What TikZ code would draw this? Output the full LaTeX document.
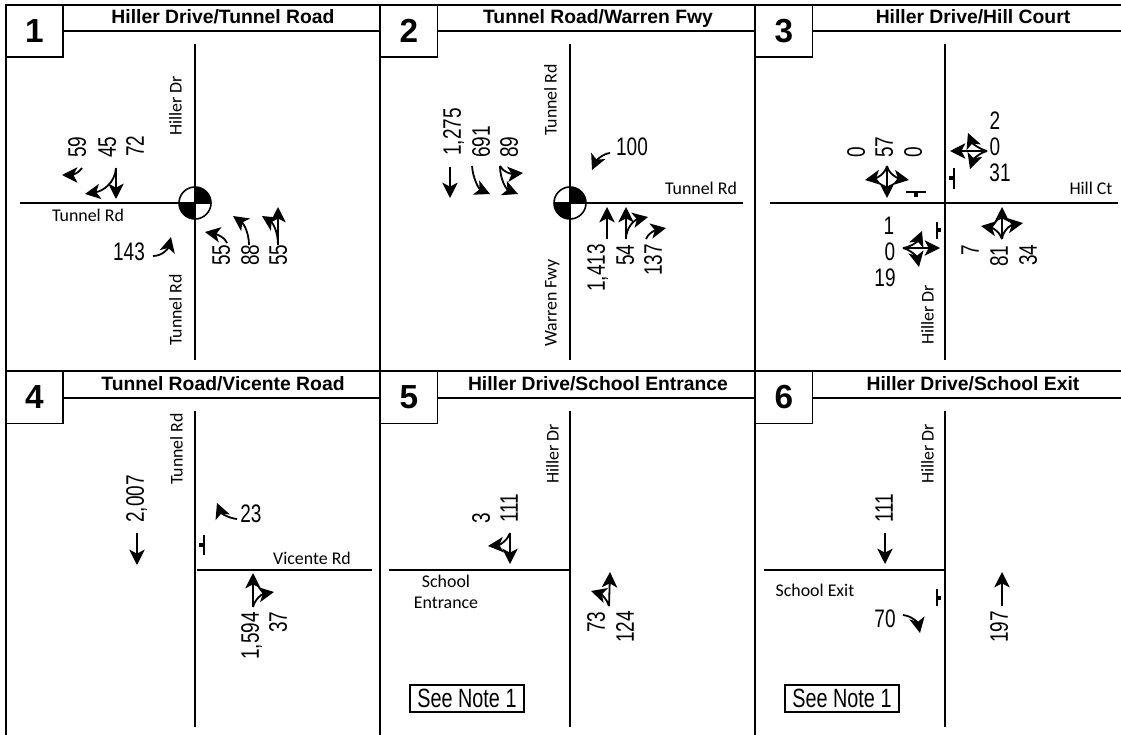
\documentclass[tikz,border=0pt]{standalone}
\usepackage{fontspec}
\usetikzlibrary{arrows.meta}
\setmainfont{Liberation Sans}
\newfontfamily\numfont[FakeStretch=.75]{Liberation Sans}
\newfontfamily\roadfont{Carlito}

\begin{document}
\begin{tikzpicture}[x=.75pt,y=-.75pt,
  frameline/.style={line width=1.4pt},
  roadline/.style={line width=1.4pt},
  stopbar/.style={line width=1.5pt},
  stopstem/.style={line width=3.4pt},
  mvmt/.style={line width=1.35pt,-{Stealth[length=11.5pt,width=11.5pt,inset=3pt]}},
  numbox/.style={draw,fill=white,line width=1.4pt,inner sep=0pt,minimum width=42.75pt,minimum height=39pt,
    font=\fontsize{25}{27}\selectfont\bfseries},
  titlelabel/.style={inner sep=0pt,text height=10.2pt,text depth=0pt,font=\fontsize{14.5}{16}\selectfont\bfseries},
  roadlabel/.style={inner sep=0pt,text height=8.6pt,text depth=0pt,font=\fontsize{13.4}{15}\selectfont\roadfont},
  count/.style={inner sep=0pt,text height=13.2pt,text depth=0pt,font=\fontsize{19}{21}\selectfont\numfont},
  notebox/.style={draw,line width=1.3pt,inner sep=0pt,minimum width=86pt,minimum height=20pt,
    font=\fontsize{19.8}{21}\selectfont\numfont},
  signal/.style={circle,draw,line width=1.2pt,fill=white,inner sep=0pt,outer sep=0pt,minimum size=24pt}]
\useasboundingbox (0,0) rectangle (1121,735);
% frame
\draw[frameline] (6,5) -- (1121,5);
\draw[frameline] (6,371) -- (1121,371);
\draw[frameline] (6,31) -- (1121,31);
\draw[frameline] (6,398) -- (1121,398);
\draw[line width=1.7pt] (6,5) -- (6,735);
\draw[frameline] (380,5) -- (380,735);
\draw[frameline] (755,5) -- (755,735);
\node[numbox] (num1) at (34.5,31) {1};
\node[numbox] (num2) at (409,31) {2};
\node[numbox] (num3) at (784,31) {3};
\node[numbox] (num4) at (34.5,397.5) {4};
\node[numbox] (num5) at (409,397.5) {5};
\node[numbox] (num6) at (784,397.5) {6};
\node[titlelabel] (title1) at (223,17) {Hiller Drive/Tunnel Road};
\node[titlelabel] (title2) at (598,17) {Tunnel Road/Warren Fwy};
\node[titlelabel] (title3) at (973,17) {Hiller Drive/Hill Court};
\node[titlelabel] (title4) at (223,384) {Tunnel Road/Vicente Road};
\node[titlelabel] (title5) at (598,384) {Hiller Drive/School Entrance};
\node[titlelabel] (title6) at (973,384) {Hiller Drive/School Exit};
% panel 1
\draw[roadline] (195,44) -- (195,360);
\draw[roadline] (20,203) -- (195,203);
\node[signal] (sig1) at (195,203) {};
\fill (sig1.center) -- (sig1.north) arc[start angle=90,end angle=0,radius=12pt] -- cycle;
\fill (sig1.center) -- (sig1.south) arc[start angle=270,end angle=180,radius=12pt] -- cycle;
\draw[line width=1.2pt] (sig1.north) -- (sig1.south);
\draw[line width=1.2pt] (sig1.west) -- (sig1.east);
\node[roadlabel,rotate=90] (rd1a) at (176,106) {Hiller Dr};
\node[roadlabel] (rd1b) at (88,216) {Tunnel Rd};
\node[roadlabel,rotate=90] (rd1c) at (176,310) {Tunnel Rd};
\node[count,rotate=90] (c1a) at (77,147) {59};
\node[count,rotate=90] (c1b) at (107,147) {45};
\node[count,rotate=90] (c1c) at (135,146) {72};
\node[count] (c1d) at (129,252) {143};
\node[count,rotate=90] (c1e) at (221,255) {55};
\node[count,rotate=90] (c1f) at (250,255) {88};
\node[count,rotate=90] (c1g) at (278,255) {55};
\draw[mvmt] (82,168) .. controls (79,173) and (72,175) .. (62,175);
\draw[mvmt] (116,168) -- (116,199);
\draw[mvmt] (116,168) .. controls (115,183) and (103,191) .. (85,194);
\draw[mvmt] (153,256) .. controls (162,256) and (168,249) .. (171,237);
\draw[mvmt] (227,243) .. controls (225,237) and (216,234) .. (205,232);
\draw[mvmt] (249,245) .. controls (249,232) and (243,223) .. (233,216);
\draw[mvmt] (278,245) -- (278,207);
\draw[mvmt] (278,245) .. controls (278,232) and (273,223) .. (262,216);
% panel 2
\draw[roadline] (570,44) -- (570,360);
\draw[roadline] (570,203) -- (743,203);
\node[signal] (sig2) at (570,203) {};
\fill (sig2.center) -- (sig2.north) arc[start angle=90,end angle=0,radius=12pt] -- cycle;
\fill (sig2.center) -- (sig2.south) arc[start angle=270,end angle=180,radius=12pt] -- cycle;
\draw[line width=1.2pt] (sig2.north) -- (sig2.south);
\draw[line width=1.2pt] (sig2.west) -- (sig2.east);
\node[roadlabel,rotate=90] (rd2a) at (551,100) {Tunnel Rd};
\node[roadlabel,rotate=90] (rd2b) at (551,303) {Warren Fwy};
\node[roadlabel] (rd2c) at (701,189) {Tunnel Rd};
\node[count,rotate=90] (c2a) at (452,132) {1,275};
\node[count,rotate=90] (c2b) at (481,142) {691};
\node[count,rotate=90] (c2c) at (509,147) {89};
\node[count] (c2d) at (632,147) {100};
\node[count,rotate=90] (c2e) at (596,268) {1,413};
\node[count,rotate=90] (c2f) at (625,255) {54};
\node[count,rotate=90] (c2g) at (653,260) {137};
\draw[mvmt] (450,167) -- (450,198);
\draw[mvmt] (472,166) .. controls (473,179) and (479,189) .. (490,194);
\draw[mvmt] (500,166) .. controls (503,172) and (511,174) .. (523,173);
\draw[mvmt] (500,166) .. controls (500,179) and (506,189) .. (518,194);
\draw[mvmt] (610,153) .. controls (602,154) and (596,161) .. (592,170);
\draw[mvmt] (607,239) -- (607,207);
\draw[mvmt] (626,239) -- (626,207);
\draw[mvmt] (626,239) .. controls (626,228) and (634,220) .. (648,217);
\draw[mvmt] (646,239) .. controls (648,233) and (656,230) .. (666,228);
% panel 3
\draw[roadline] (945,44) -- (945,360);
\draw[roadline] (770,203) -- (1118,203);
\node[roadlabel] (rd3a) at (1091,189) {Hill Ct};
\node[roadlabel,rotate=90] (rd3b) at (928,315) {Hiller Dr};
\node[count,rotate=90] (c3a) at (856,152) {0};
\node[count,rotate=90] (c3b) at (884,147) {57};
\node[count,rotate=90] (c3c) at (913,152) {0};
\node[count] (c3d) at (995,121) {2};
\node[count] (c3e) at (995,147) {0};
\node[count] (c3f) at (1000,173) {31};
\node[count] (c3g) at (889,226) {1};
\node[count] (c3h) at (890,252) {0};
\node[count] (c3i) at (885,278) {19};
\node[count,rotate=90] (c3j) at (970,250) {7};
\node[count,rotate=90] (c3k) at (999,256) {81};
\node[count,rotate=90] (c3l) at (1028,255) {34};
\draw[mvmt] (887,166) -- (887,198);
\draw[mvmt] (887,166) .. controls (885,174) and (877,178) .. (865,180);
\draw[mvmt] (887,166) .. controls (889,174) and (897,178) .. (909,180);
\draw[mvmt] (987,151) -- (950,151);
\draw[mvmt] (987,151) .. controls (979,149) and (972,143) .. (968,133);
\draw[mvmt] (987,151) .. controls (979,153) and (973,160) .. (970,169);
\draw[mvmt] (903,248) -- (940,248);
\draw[mvmt] (903,248) .. controls (911,247) and (918,241) .. (922,231);
\draw[mvmt] (903,248) .. controls (911,250) and (917,257) .. (919,267);
\draw[mvmt] (1002,239) -- (1002,207);
\draw[mvmt] (1002,239) .. controls (1000,232) and (993,228) .. (981,226);
\draw[mvmt] (1002,239) .. controls (1003,230) and (1011,225) .. (1023,223);
\draw[stopbar] (906,192) -- (926,192);
\draw[stopstem] (916,192) -- (916,197);
\draw[stopbar] (954,168) -- (954,189);
\draw[stopstem] (949,178) -- (954,178);
\draw[stopbar] (937,222) -- (937,239);
\draw[stopstem] (937,230) -- (941,230);
% panel 4
\draw[roadline] (195,411) -- (195,727);
\draw[roadline] (197,570) -- (372,570);
\node[roadlabel,rotate=90] (rd4a) at (177,449) {Tunnel Rd};
\node[roadlabel] (rd4b) at (312,559) {Vicente Rd};
\node[count,rotate=90] (c4a) at (135,499) {2,007};
\node[count] (c4b) at (251,514) {23};
\node[count,rotate=90] (c4c) at (250,636) {1,594};
\node[count,rotate=90] (c4d) at (278,622) {37};
\draw[mvmt] (137,533) -- (137,565);
\draw[mvmt] (237,519) .. controls (228,518) and (221,513) .. (217,503);
\draw[mvmt] (253,607) -- (253,573);
\draw[mvmt] (253,607) .. controls (255,599) and (262,594) .. (274,592);
\draw[stopbar] (204,535) -- (204,555);
\draw[stopstem] (199,545) -- (204,545);
% panel 5
\draw[roadline] (570,411) -- (570,727);
\draw[roadline] (389,570) -- (570,570);
\node[roadlabel,rotate=90] (rd5a) at (553,454) {Hiller Dr};
\node[roadlabel] (rd5b) at (446,582) {School};
\node[roadlabel] (rd5c) at (446,603) {Entrance};
\node[count,rotate=90] (c5a) at (481,518) {3};
\node[count,rotate=90] (c5b) at (509,508) {111};
\node[count,rotate=90] (c5c) at (596,622) {73};
\node[count,rotate=90] (c5d) at (625,627) {124};
\draw[mvmt] (510,533) -- (510,564);
\draw[mvmt] (510,533) .. controls (508,540) and (500,545) .. (488,546);
\draw[mvmt] (609,606) -- (610,572);
\draw[mvmt] (609,606) .. controls (607,599) and (601,594) .. (591,591);
\node[notebox] (note5) at (467,698.5) {See Note 1};
% panel 6
\draw[roadline] (945,411) -- (945,727);
\draw[roadline] (764,570) -- (945,570);
\node[roadlabel,rotate=90] (rd6a) at (928,454) {Hiller Dr};
\node[roadlabel] (rd6b) at (815,591) {School Exit};
\node[count,rotate=90] (c6a) at (884,508) {111};
\node[count] (c6b) at (885,619) {70};
\node[count,rotate=90] (c6c) at (999,627) {197};
\draw[mvmt] (885,533) -- (885,564);
\draw[mvmt] (903,615) .. controls (912,616) and (918,623) .. (920,633);
\draw[mvmt] (1002,606) -- (1002,572);
\draw[stopbar] (937,589) -- (937,606);
\draw[stopstem] (937,598) -- (941,598);
\node[notebox] (note6) at (842,698.5) {See Note 1};
\end{tikzpicture}
\end{document}
